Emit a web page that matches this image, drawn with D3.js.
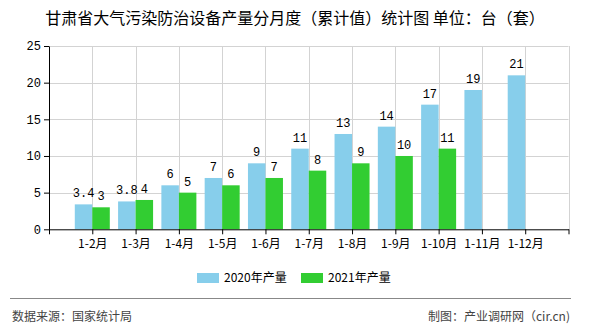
<!DOCTYPE html>
<html><head><meta charset="utf-8">
<script src="https://cdn.jsdelivr.net/npm/d3@7"></script>
<style>
body{margin:0;background:#fff;}
svg{display:block;font-family:"Noto Sans CJK SC","Noto Sans",sans-serif;}
</style></head>
<body><svg id="c" width="590" height="330"></svg>
<script>
const categories = ["1-2月","1-3月","1-4月","1-5月","1-6月","1-7月","1-8月","1-9月","1-10月","1-11月","1-12月"];
const values2020 = [3.4,3.8,6,7,9,11,13,14,17,19,21];
const values2021 = [3,4,5,6,7,8,9,10,11,null,null];
const seriesNames = ["2020年产量","2021年产量"];
const yTicks = [0,5,10,15,20,25];
const colors = ["#87CEEB","#32CD32"];

(function(){
const svg = d3.select("#c");
const pLeft = 49, pRight = 568.5, pTop = 46, pBottom = 229.3;

const domain = ["__s", ...categories, "__e"];
const x = d3.scalePoint().domain(domain).range([pLeft, pRight]).padding(0);
const y = d3.scaleLinear().domain([0,25]).range([pBottom, pTop]);

svg.append("text").attr("x",295).attr("y",24).attr("text-anchor","middle")
  .attr("font-size",16).attr("fill","#000")
  .text("甘肃省大气污染防治设备产量分月度（累计值）统计图 单位：台（套）");

const g = svg.append("g");
g.selectAll("line.h").data(yTicks.filter(d=>d>0)).join("line").attr("class","h")
  .attr("x1",pLeft).attr("x2",pRight).attr("y1",d=>Math.round(y(d))+0.5).attr("y2",d=>Math.round(y(d))+0.5)
  .attr("stroke","#d3d3d3").attr("stroke-width",1);
g.selectAll("line.v").data(domain.slice(1)).join("line").attr("class","v")
  .attr("x1",d=>Math.round(x(d))+0.5).attr("x2",d=>Math.round(x(d))+0.5).attr("y1",pTop).attr("y2",pBottom)
  .attr("stroke","#d3d3d3").attr("stroke-width",1);

const bw = 17.5;
const series = [values2020, values2021];
series.forEach((vals, si) => {
  const data = categories.map((c,i)=>({c, v: vals[i]})).filter(d=>d.v!=null);
  svg.append("g").selectAll("rect").data(data).join("rect")
    .attr("x", d => si===0 ? x(d.c)-bw : x(d.c))
    .attr("width", bw)
    .attr("y", d => y(d.v))
    .attr("height", d => y(0)-y(d.v))
    .attr("fill", colors[si]);
  svg.append("g").selectAll("text").data(data).join("text")
    .attr("x", d => si===0 ? x(d.c)-bw/2 : x(d.c)+bw/2)
    .attr("y", d => y(d.v)-7)
    .attr("text-anchor","middle")
    .attr("font-size",12)
    .attr("font-family","'Liberation Mono','DejaVu Sans Mono',monospace")
    .attr("fill","#000")
    .text(d => d.v);
});

const xAxis = d3.axisBottom(x).tickSize(5).tickSizeOuter(0)
  .tickFormat(d => d.startsWith("__") ? "" : d);
const xg = svg.append("g").attr("transform",`translate(0,${pBottom})`).call(xAxis);
xg.select(".domain").attr("stroke","#000");
xg.selectAll(".tick line").attr("stroke","#000");
xg.selectAll(".tick text").attr("font-size",12).attr("fill","#000").attr("dy","0.9em")
  .attr("font-family","'Noto Sans CJK SC',sans-serif");

const yAxis = d3.axisLeft(y).tickValues(yTicks).tickSize(5).tickSizeOuter(0);
const yg = svg.append("g").attr("transform",`translate(${pLeft},0)`).call(yAxis);
yg.select(".domain").attr("stroke","#000");
yg.selectAll(".tick line").attr("stroke","#000");
yg.selectAll(".tick text").attr("font-size",12).attr("fill","#000").attr("x",-8)
  .attr("font-family","'Liberation Mono','DejaVu Sans Mono',monospace");

const lg = svg.append("g");
const legX = [197, 301];
seriesNames.forEach((n,i)=>{
  lg.append("rect").attr("x",legX[i]).attr("y",273).attr("width",22).attr("height",10).attr("fill",colors[i]);
  lg.append("text").attr("x",legX[i]+27).attr("y",282).attr("font-size",12).attr("fill","#000").text(n);
});

svg.append("line").attr("x1",10).attr("x2",571).attr("y1",298.5).attr("y2",298.5)
  .attr("stroke","#888").attr("stroke-width",1.2);
svg.append("text").attr("x",12).attr("y",321).attr("font-size",12).attr("fill","#444").text("数据来源：国家统计局");
svg.append("text").attr("x",570).attr("y",321).attr("text-anchor","end").attr("font-size",12).attr("fill","#444").text("制图：产业调研网（cir.cn)");
})();
</script></body></html>
